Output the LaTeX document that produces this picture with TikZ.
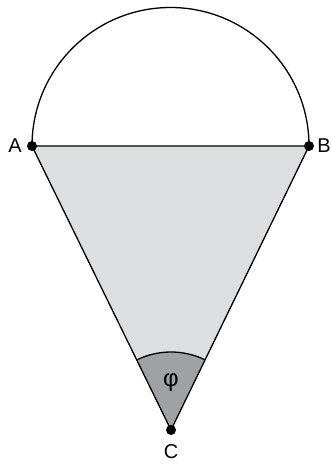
\documentclass[tikz,border=0pt]{standalone}
\usepackage{fontspec}
\setmainfont{Liberation Sans}
\usetikzlibrary{calc}
\definecolor{conelight}{RGB}{221,222,224}
\definecolor{conedark}{RGB}{160,161,164}

\begin{document}
\begin{tikzpicture}[
  x=0.5pt,y=0.5pt,
  font=\fontsize{10}{12}\selectfont,
  edge/.style={line width=0.65pt},
  pt/.style={circle,fill=black,inner sep=0pt,minimum size=5pt},
  lbl/.style={inner sep=0pt}
]
  \useasboundingbox (0,0) rectangle (331,465);
  \coordinate (A) at (32,319);
  \coordinate (B) at (309,319);
  \coordinate (C) at (171,35);

  % triangle and angle sector
  \fill[conelight] (A) -- (B) -- (C) -- cycle;
  \fill[conedark] (C) -- ($(C)!39pt!(A)$) arc[start angle=116.08,end angle=64.08,radius=78] -- cycle;
  \draw[edge] ($(C)!39pt!(A)$) arc[start angle=116.08,end angle=64.08,radius=78];
  \draw[edge] (A) -- (B) -- (C) -- cycle;
  \draw[edge] (B) arc[start angle=0,end angle=180,radius=138.5];

  \node[pt] (pa) at (A) {};
  \node[pt] (pb) at (B) {};
  \node[pt] (pc) at (C) {};
  \node[lbl] (la) at (15,319) {A};
  \node[lbl] (lb) at (324,319) {B};
  \node[lbl] (lc) at (171,13) {C};
  \node[lbl,font=\fontsize{12}{14}\selectfont] (phi) at (171,82) {φ};
\end{tikzpicture}
\end{document}
